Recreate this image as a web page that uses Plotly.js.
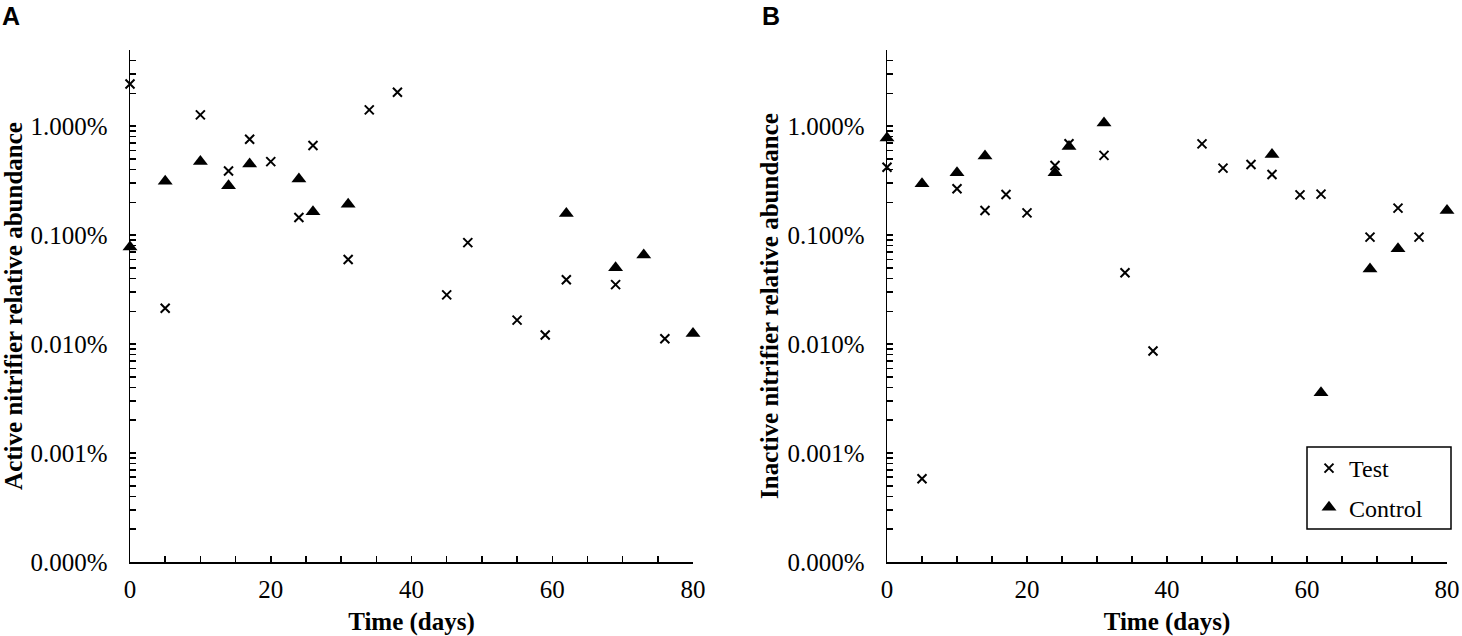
<!DOCTYPE html>
<html>
<head>
<meta charset="utf-8">
<script src="https://cdn.plot.ly/plotly-3.0.1.min.js"></script>
<style>
  html, body { margin: 0; padding: 0; background: #fff; }
  #chart { width: 1462px; height: 636px; }
</style>
</head>
<body>
<div id="chart"></div>
<script>
// Panel A: active nitrifiers (values in %)
const activeTestDays = [0, 5, 10, 14, 17, 20, 24, 26, 31, 34, 38, 45, 48, 55, 59, 62, 69, 76];
const activeTestPct = [2.44, 0.0213, 1.27, 0.387, 0.758, 0.473, 0.145, 0.664, 0.0598, 1.41, 2.05,
  0.0283, 0.0853, 0.0166, 0.0121, 0.0389, 0.0351, 0.0112];
const activeControlDays = [0, 5, 10, 14, 17, 24, 26, 31, 62, 69, 73, 80];
const activeControlPct = [0.0778, 0.313, 0.473, 0.284, 0.45, 0.327, 0.164, 0.192, 0.158, 0.0502, 0.0657, 0.0125];

// Panel B: inactive nitrifiers (values in %)
const inactiveTestDays = [0, 5, 10, 14, 17, 20, 24, 26, 31, 34, 38, 45, 48, 52, 55, 59, 62, 69, 73, 76];
const inactiveTestPct = [0.42, 0.00058, 0.266, 0.168, 0.236, 0.160, 0.436, 0.689, 0.539, 0.0451, 0.00863,
  0.688, 0.412, 0.445, 0.36, 0.234, 0.238, 0.0959, 0.177, 0.0959];
const inactiveControlDays = [0, 5, 10, 14, 24, 26, 31, 55, 62, 69, 73, 80];
const inactiveControlPct = [0.78, 0.296, 0.373, 0.531, 0.373, 0.651, 1.07, 0.55, 0.00357, 0.049, 0.0748, 0.168];

const yTickVals = [0.0001, 0.001, 0.01, 0.1, 1];
const yTickText = ['0.000%', '0.001%', '0.010%', '0.100%', '1.000%'];
const xTickVals = [0, 20, 40, 60, 80];

const SERIF = 'Liberation Serif, Times New Roman, serif';
const W = 1462, H = 636;

const testMarker = { symbol: 'x-thin', size: 9, color: '#000', line: { color: '#000', width: 2 } };
const ctrlMarker = { symbol: 'triangle-up', size: 13, color: '#000', line: { width: 0 } };

function pts(name, x, y, marker, xa, ya, show) {
  return {
    type: 'scatter', mode: 'markers', name, x, y,
    xaxis: xa, yaxis: ya, marker, cliponaxis: false,
    showlegend: show, legendgroup: name
  };
}

const traces = [
  pts('Test', activeTestDays, activeTestPct, testMarker, 'x', 'y', false),
  pts('Control', activeControlDays, activeControlPct, ctrlMarker, 'x', 'y', false),
  pts('Test', inactiveTestDays, inactiveTestPct, testMarker, 'x2', 'y2', true),
  pts('Control', inactiveControlDays, inactiveControlPct, ctrlMarker, 'x2', 'y2', true)
];

function xAxis(domain, anchor) {
  return {
    domain, anchor, range: [0, 80], fixedrange: true,
    tickvals: xTickVals, ticks: 'inside', ticklen: 6, tickwidth: 1.5, tickcolor: '#000',
    minor: { dtick: 5, ticks: 'inside', ticklen: 6, tickwidth: 1.5, tickcolor: '#000' },
    showline: true, linecolor: '#000', linewidth: 1.5,
    showgrid: false, zeroline: false,
    tickfont: { family: SERIF, size: 25, color: '#000' },
    ticklabelstandoff: 4,
    title: { text: '<b>Time (days)</b>', font: { family: SERIF, size: 25, color: '#000' }, standoff: 11 }
  };
}

function yAxis(domain, anchor, title, standoff) {
  return {
    domain, anchor, type: 'log', range: [-4, Math.log10(5)], fixedrange: true,
    tickmode: 'array', tickvals: yTickVals, ticktext: yTickText,
    ticks: 'inside', ticklen: 6, tickwidth: 1.5, tickcolor: '#000',
    minor: { dtick: 'D1', ticks: 'inside', ticklen: 6, tickwidth: 1.5, tickcolor: '#000' },
    showline: true, linecolor: '#000', linewidth: 1.5,
    showgrid: false, zeroline: false,
    tickfont: { family: SERIF, size: 25, color: '#000' },
    ticklabelstandoff: 16,
    title: { text: '<b>' + title + '</b>', font: { family: SERIF, size: 25, color: '#000' }, standoff }
  };
}

const yDom = [1 - 562 / H, 1 - 50 / H];

const layout = {
  width: W, height: H, autosize: false,
  margin: { l: 0, r: 0, t: 0, b: 0 },
  paper_bgcolor: '#fff', plot_bgcolor: '#fff',
  font: { family: SERIF, color: '#000' },
  xaxis: xAxis([130 / W, 693 / W], 'y'),
  yaxis: yAxis(yDom, 'x', 'Active nitrifier relative abundance', 5),
  xaxis2: xAxis([887 / W, 1447 / W], 'y2'),
  yaxis2: yAxis(yDom, 'x2', 'Inactive nitrifier relative abundance', 1),
  showlegend: true,
  legend: {
    x: 1309 / W, y: 1 - 446 / H, xanchor: 'left', yanchor: 'top',
    bgcolor: 'rgba(0,0,0,0)', borderwidth: 0,
    font: { family: SERIF, size: 24, color: '#000' },
    tracegroupgap: 5, itemwidth: 30
  },
  shapes: [{
    type: 'rect', xref: 'paper', yref: 'paper',
    x0: 1307 / W, x1: 1451 / W, y0: 1 - 529 / H, y1: 1 - 447 / H,
    line: { color: '#000', width: 1.5 }, fillcolor: 'rgba(0,0,0,0)'
  }],
  annotations: [
    { text: '<b>A</b>', xref: 'paper', yref: 'paper', x: 0, y: 1, xanchor: 'left', yanchor: 'top',
      showarrow: false, font: { family: 'Liberation Sans, Arial, sans-serif', size: 25, color: '#000' } },
    { text: '<b>B</b>', xref: 'paper', yref: 'paper', x: 760 / W, y: 1, xanchor: 'left', yanchor: 'top',
      showarrow: false, font: { family: 'Liberation Sans, Arial, sans-serif', size: 25, color: '#000' } }
  ]
};

Plotly.newPlot('chart', traces, layout, { displayModeBar: false, staticPlot: true });
</script>
</body>
</html>
